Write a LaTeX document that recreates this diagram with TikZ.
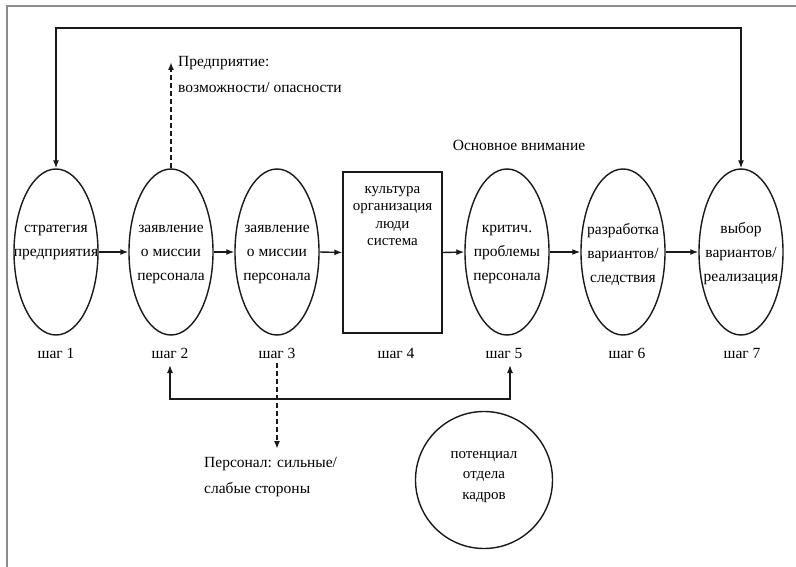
\documentclass[tikz,border=0pt]{standalone}
\usepackage{fontspec}
\setmainfont{Liberation Serif}
\usetikzlibrary{shapes.geometric,arrows.meta}
\begin{document}
\begin{tikzpicture}[x=1pt,y=-1pt,
  ink/.style={draw=black!90,line width=1.4pt},
  stage/.style={ink,ellipse,minimum width=84pt,minimum height=166pt,inner sep=0pt},
  txt/.style={inner sep=0pt,align=center,text=black,font=\fontsize{15.5}{24}\selectfont},
  boxtxt/.style={inner sep=0pt,align=center,text=black,font=\fontsize{15}{17.5}\selectfont},
  steplbl/.style={inner sep=1pt,anchor=base,text height=11pt,text depth=4pt,text=black,font=\fontsize{15.5}{18}\selectfont},
  side/.style={inner sep=0pt,align=left,text=black,font=\fontsize{15.5}{26}\selectfont},
  tip/.tip={Latex[length=8pt,width=6pt]},
  arr/.style={ink,-tip},
  dasharr/.style={draw=black!90,line width=1.7pt,dash pattern=on 5pt off 3pt,-tip},
  frameline/.style={draw=black!45,line width=1.2pt}
]
\useasboundingbox[fill=white] (0,0) rectangle (796,567);
% page frame
\draw[frameline] (7,567) -- (7,6) -- (796,6);
% stages
\node[stage] (e1) at (56,252) {};
\node[stage] (e2) at (171,252) {};
\node[stage] (e3) at (277,252) {};
\node[ink,rectangle,minimum width=99pt,minimum height=161pt,inner sep=0pt] (b4) at (392.5,252.5) {};
\node[stage] (e5) at (507,252) {};
\node[stage] (e6) at (623,252) {};
\node[stage] (e7) at (741,252) {};
% texts
\node[txt] (t1) at (56,242) {стратегия\\предприятия};
\node[txt] (t2) at (171,254) {заявление\\о миссии\\персонала};
\node[txt] (t3) at (277,254) {заявление\\о миссии\\персонала};
\node[boxtxt] (t4) at (392.5,216) {культура\\организация\\люди\\система};
\node[txt] (t5) at (507,254) {критич.\\проблемы\\персонала};
\node[txt] (t6) at (623,254) {разработка\\вариантов/\\следствия};
\node[txt] (t7) at (741,254) {выбор\\вариантов/\\реализация};
% step labels
\node[steplbl] (s1) at (56,358) {шаг 1};
\node[steplbl] (s2) at (170,358) {шаг 2};
\node[steplbl] (s3) at (277,358) {шаг 3};
\node[steplbl] (s4) at (396,358) {шаг 4};
\node[steplbl] (s5) at (504,358) {шаг 5};
\node[steplbl] (s6) at (627,358) {шаг 6};
\node[steplbl] (s7) at (742,358) {шаг 7};
% flow arrows
\draw[arr] (e1.east) -- (e2.west);
\draw[arr] (e2.east) -- (e3.west);
\draw[arr] (e3.east) -- (b4.west);
\draw[arr] (b4.east) -- (e5.west);
\draw[arr] (e5.east) -- (e6.west);
\draw[arr] (e6.east) -- (e7.west);
% top loop
\coordinate (tl) at (56,28);
\coordinate (tr) at (741,28);
\draw[ink,tip-tip] (e1.north) -- (tl) -- (tr) -- (e7.north);
% main focus
\node[side] (focus) at (519,145) {Основное внимание};
% enterprise environment
\coordinate (envtip) at (171,62);
\draw[dasharr] (e2.north) -- (envtip);
\node[side,anchor=west] (env) at (178,75) {Предприятие:\\возможности/ опасности};
% personnel strengths
\coordinate (perstip) at (277,449);
\draw[dasharr] (s3.south) -- (perstip);
\node[side,anchor=north west] (pers) at (204,457) {Персонал: сильные/\\слабые стороны};
% HR feedback
\coordinate (fa) at (170,365);
\coordinate (fb) at (170,399);
\coordinate (fc) at (510,399);
\coordinate (fd) at (510,365);
\draw[ink,tip-tip] (fa) -- (fb) -- (fc) -- (fd);
% HR potential
\node[ink,circle,minimum size=137pt,inner sep=0pt] (hr) at (484,480) {};
\node[txt,font=\fontsize{15}{20.5}\selectfont] (hrt) at (484,477) {потенциал\\отдела\\кадров};
\end{tikzpicture}
\end{document}
